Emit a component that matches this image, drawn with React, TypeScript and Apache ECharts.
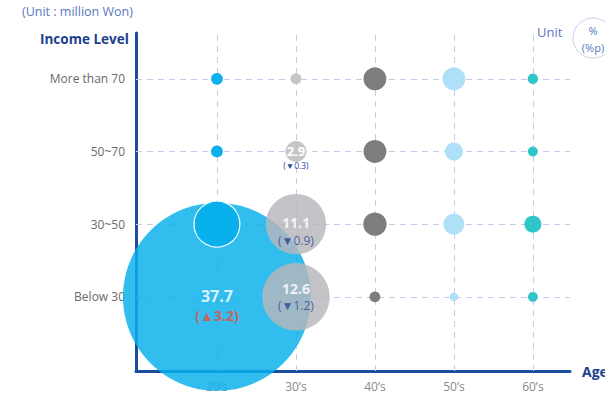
import React, { useEffect, useRef } from "react";
import * as echarts from "echarts";

const ages = ["20’s", "30’s", "40’s", "50’s", "60’s"];
const incomes = ["Below 30", "30~50", "50~70", "More than 70"];

// values per age group, ordered by income level index (Below 30 .. More than 70)
const v20 = [37.7, 8.1, 1.0, 1.0];
const v30 = [12.6, 11.1, 2.9, 0.8];
const v40 = [0.8, 3.4, 3.3, 3.3];
const v50 = [0.3, 2.9, 2.3, 3.3];
const v60 = [0.6, 2.1, 0.6, 0.7];

// changes (%p) shown next to the labelled bubbles
const c20 = ["▲3.2", "", "", ""];
const c30 = ["▼1.2", "▼0.9", "▼0.3", ""];

const ageValues = [v20, v30, v40, v50, v60];
const ageChanges = [c20, c30, ["", "", "", ""], ["", "", "", ""], ["", "", "", ""]];
const ageColors = ["#0bb0ec", "#b7b7bc", "#7d7d7d", "#aee0f8", "#2ec6c8"];

const FONT = "Open Sans";

export default function App() {
  const ref = useRef<HTMLDivElement>(null);
  useEffect(() => {
    if (!ref.current) return;
    const chart = echarts.init(ref.current, null, { renderer: "svg" });

    const sizeOf = (v: number) => 4.8 * v + 7;

    const ageSeries = ageValues.map((vals, ai) => {
      const data = vals.map((v, ii) => {
        const change = ageChanges[ai][ii];
        const item: any = { value: [ai, ii, v] };
        if (ai === 0 && ii === 0) {
          item.itemStyle = { color: "#0bb0ec", opacity: 0.84 };
        }
        if (ai === 0 && ii === 1) {
          item.itemStyle = { color: "#08b0ec", borderColor: "#ffffff", borderWidth: 1.2 };
        }
        if (ai === 1 && ii >= 2) {
          item.itemStyle = { color: "#c6c6c8", opacity: 1 };
        }
        if (change) {
          const big = ai === 0;
          const small = ai === 1 && ii === 2;
          const offsetY = big ? 9 : small ? 6 : ii === 1 ? 7 : 0;
          item.label = {
            show: true,
            position: "inside",
            offset: [0, offsetY],
            formatter: () => `{a|${v.toFixed(1)}}\n{${big ? "b" : small ? "d" : "c"}|(${change})}`,
            rich: {
              a: {
                color: "#ffffff",
                fontWeight: "bold",
                fontSize: big ? 16 : small ? 13 : 14,
                lineHeight: big ? 20 : small ? 16 : 18,
                fontFamily: FONT,
                align: "center",
              },
              b: { color: "#e8503c", fontWeight: "bold", fontSize: 14, lineHeight: 20, fontFamily: FONT, align: "center" },
              c: { color: "#2b4a98", fontSize: 12, lineHeight: 17, fontFamily: FONT, align: "center" },
              d: { color: "#2b4a98", fontSize: 8.5, lineHeight: 12, fontFamily: FONT, align: "center" },
            },
          };
        }
        return item;
      });
      return {
        type: "scatter",
        name: ages[ai],
        z: 3,
        clip: false,
        data,
        symbolSize: (val: number[]) => sizeOf(val[2]),
        itemStyle: { color: ageColors[ai], opacity: ai === 1 ? 0.82 : 1 },
        label: { show: false },
        emphasis: { disabled: true },
      };
    });

    const gridStyle = { color: "#c8c8e8", type: [6, 5], width: 1 };

    const option: any = {
      animation: false,
      textStyle: { fontFamily: FONT },
      grid: { left: 136, right: 35, top: 33, bottom: 24 },
      xAxis: {
        type: "value",
        min: -1.025,
        max: 4.47,
        z: 0,
        axisLine: { show: true, onZero: false, lineStyle: { color: "#1c4da1", width: 3 } },
        axisTick: { show: false },
        splitLine: { show: false },
        axisLabel: {
          customValues: [0, 1, 2, 3, 4],
          formatter: (v: number) => ages[Math.round(v)] ?? "",
          color: "#8a8a8a",
          fontSize: 12,
          margin: 9,
          fontFamily: FONT,
        },
      },
      yAxis: {
        type: "value",
        min: -1.02,
        max: 3.63,
        z: 0,
        axisLine: { show: true, onZero: false, lineStyle: { color: "#1c4da1", width: 3 } },
        axisTick: { show: false },
        splitLine: { show: false },
        axisLabel: {
          customValues: [0, 1, 2, 3],
          formatter: (v: number) => incomes[Math.round(v)] ?? "",
          color: "#6a6a6a",
          fontSize: 12,
          margin: 11,
          fontFamily: FONT,
        },
      },
      series: [
        {
          type: "scatter",
          z: 1,
          data: [[0, 0]],
          symbolSize: 0,
          silent: true,
          markLine: {
            z: 1,
            silent: true,
            symbol: ["none", "none"],
            label: { show: false },
            lineStyle: gridStyle,
            emphasis: { disabled: true },
            data: [
              ...ages.map((_, i) => ({ xAxis: i })),
              ...incomes.map((_, i) => ({ yAxis: i })),
            ],
          },
        },
        ...ageSeries,
      ],
      graphic: [
        {
          type: "text",
          left: 22,
          top: 5,
          style: { text: "(Unit : million Won)", fill: "#5b78c0", fontSize: 12.5, fontFamily: FONT },
        },
        {
          type: "text",
          left: 40,
          top: 32,
          style: { text: "Income Level", fill: "#1a3f8f", fontSize: 13.5, fontWeight: "bold", fontFamily: FONT },
        },
        {
          type: "text",
          left: 537,
          top: 25,
          style: { text: "Unit", fill: "#5b78c0", fontSize: 13, fontFamily: FONT },
        },
        {
          type: "circle",
          shape: { cx: 593, cy: 38, r: 20 },
          style: { fill: "#ffffff", stroke: "#cfcfec", lineWidth: 1 },
        },
        {
          type: "text",
          x: 593,
          y: 30,
          style: { text: "%", fill: "#5b78c0", fontSize: 11, fontFamily: FONT, align: "center", verticalAlign: "middle" },
        },
        {
          type: "text",
          x: 593,
          y: 47,
          style: { text: "(%p)", fill: "#5b78c0", fontSize: 11, fontFamily: FONT, align: "center", verticalAlign: "middle" },
        },
        {
          type: "text",
          x: 582,
          y: 371,
          style: { text: "Age", fill: "#1a3f8f", fontSize: 14, fontWeight: "bold", fontFamily: FONT, verticalAlign: "middle" },
        },
      ],
    };

    chart.setOption(option);
    return () => chart.dispose();
  }, []);

  return <div ref={ref} style={{ width: 605, height: 395, position: "absolute", left: 0, top: 0 }} />;
}
